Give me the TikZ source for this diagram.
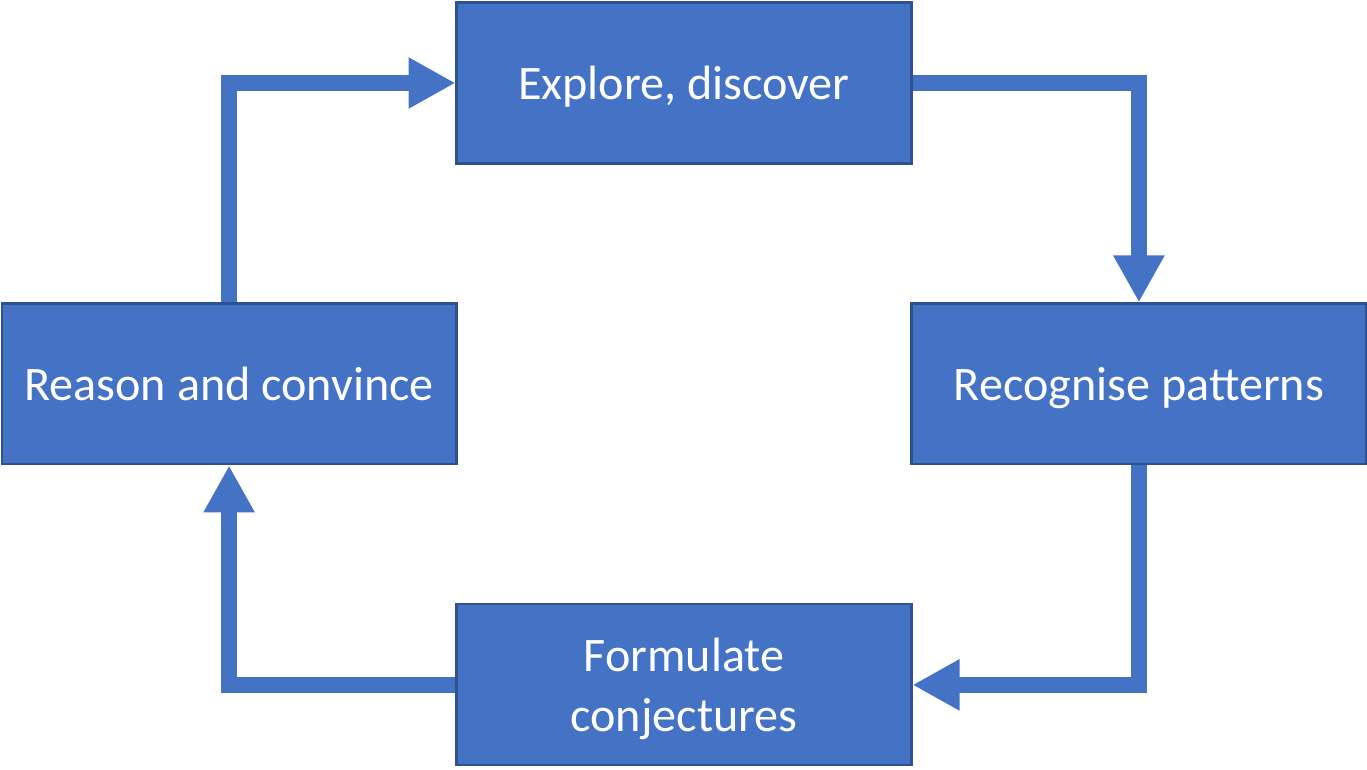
\documentclass[tikz,border=0pt]{standalone}
\usepackage{fontspec}
\setmainfont{Carlito}
\usepackage{tikz}
\usetikzlibrary{arrows.meta,positioning}

\definecolor{boxblue}{HTML}{4472C4}
\definecolor{edgeblue}{HTML}{2F528F}

\begin{document}
\begin{tikzpicture}[x=0.02cm,y=-0.02cm,node distance=6.02cm and 9.1cm,on grid,
    stage/.style={rectangle, fill=boxblue, draw=edgeblue, line width=1.2pt,
      minimum width=9.1cm, minimum height=3.22cm, text=white, align=center,
      font=\fontsize{27.4}{34}\selectfont, inner sep=0pt, text depth=0pt},
    flow/.style={draw=boxblue, line width=0.32cm, line join=miter,
      -{Triangle[length=0.94cm,width=0.96cm]}}]
  \useasboundingbox (0,0) rectangle (1367,769);
  \node[stage] (explore) at (684,83) {Explore, discover};
  \node[stage] (patterns) [below right=of explore] {Recognise patterns};
  \node[stage] (reason) [below left=of explore] {Reason and convince};
  \node[stage] (conject) [below right=of reason] {Formulate\\conjectures};
  % the cycle
  \draw[flow] (explore.east) -| (patterns.north);
  \draw[flow] (patterns.south) |- (conject.east);
  \draw[flow] (conject.west) -| (reason.south);
  \draw[flow] (reason.north) |- (explore.west);
\end{tikzpicture}
\end{document}
